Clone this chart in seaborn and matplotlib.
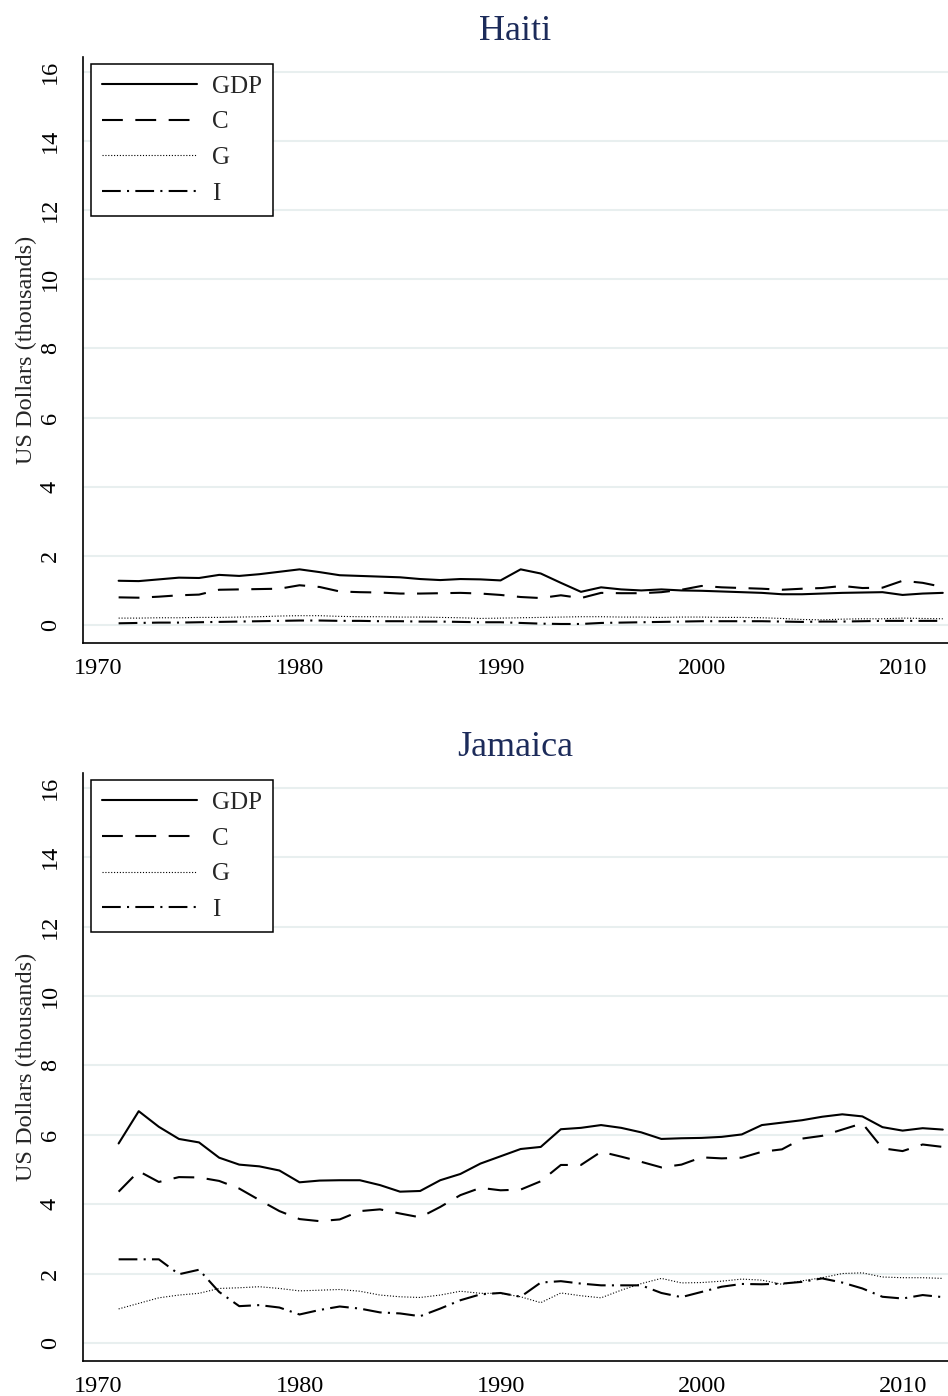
import matplotlib
matplotlib.use("Agg")

import matplotlib.pyplot as plt
import seaborn as sns
import pandas as pd

# =========================================================
# DATA (US dollars, thousands, per capita)
# =========================================================

years = list(range(1971, 2013))

haiti_gdp = [1.28, 1.27, 1.32, 1.37, 1.36, 1.45, 1.42, 1.47, 1.54, 1.61,
             1.53, 1.44, 1.42, 1.40, 1.38, 1.33, 1.30, 1.33, 1.32, 1.29,
             1.61, 1.49, 1.22, 0.96, 1.09, 1.03, 1.00, 1.03, 1.00, 0.99,
             0.97, 0.95, 0.93, 0.89, 0.89, 0.91, 0.93, 0.94, 0.95, 0.87,
             0.91, 0.93]
haiti_c = [0.80, 0.79, 0.82, 0.86, 0.88, 1.02, 1.03, 1.04, 1.05, 1.15,
           1.10, 0.97, 0.95, 0.94, 0.91, 0.91, 0.92, 0.93, 0.91, 0.87,
           0.81, 0.78, 0.86, 0.78, 0.93, 0.92, 0.92, 0.95, 1.02, 1.13,
           1.09, 1.07, 1.05, 1.02, 1.05, 1.07, 1.13, 1.07, 1.08, 1.28,
           1.22, 1.10]
haiti_g = [0.20, 0.20, 0.21, 0.21, 0.22, 0.22, 0.23, 0.24, 0.26, 0.27,
           0.27, 0.25, 0.24, 0.24, 0.23, 0.23, 0.22, 0.21, 0.19, 0.20,
           0.21, 0.22, 0.23, 0.24, 0.24, 0.23, 0.23, 0.22, 0.23, 0.23,
           0.22, 0.22, 0.21, 0.19, 0.16, 0.15, 0.17, 0.18, 0.18, 0.20,
           0.19, 0.18]
haiti_i = [0.05, 0.06, 0.07, 0.07, 0.08, 0.09, 0.10, 0.11, 0.12, 0.13,
           0.13, 0.12, 0.12, 0.11, 0.11, 0.10, 0.10, 0.09, 0.08, 0.08,
           0.06, 0.04, 0.03, 0.03, 0.06, 0.07, 0.08, 0.09, 0.10, 0.11,
           0.11, 0.11, 0.11, 0.10, 0.09, 0.10, 0.10, 0.11, 0.12, 0.12,
           0.12, 0.12]

jamaica_gdp = [5.75, 6.68, 6.23, 5.88, 5.78, 5.34, 5.14, 5.09, 4.97, 4.63,
               4.68, 4.69, 4.69, 4.55, 4.36, 4.38, 4.69, 4.87, 5.17, 5.38,
               5.59, 5.65, 6.16, 6.20, 6.28, 6.20, 6.07, 5.88, 5.90, 5.91,
               5.94, 6.01, 6.28, 6.35, 6.42, 6.52, 6.59, 6.53, 6.22, 6.12,
               6.19, 6.15]
jamaica_c = [4.36, 4.95, 4.64, 4.78, 4.77, 4.67, 4.45, 4.12, 3.80, 3.57,
             3.51, 3.56, 3.80, 3.85, 3.73, 3.62, 3.92, 4.26, 4.47, 4.40,
             4.42, 4.66, 5.13, 5.13, 5.51, 5.37, 5.22, 5.06, 5.14, 5.35,
             5.32, 5.34, 5.51, 5.58, 5.89, 5.97, 6.15, 6.33, 5.61, 5.53,
             5.72, 5.65]
jamaica_g = [0.98, 1.14, 1.30, 1.38, 1.43, 1.57, 1.59, 1.62, 1.57, 1.50,
             1.52, 1.54, 1.49, 1.38, 1.33, 1.31, 1.38, 1.49, 1.43, 1.43,
             1.33, 1.16, 1.44, 1.36, 1.30, 1.52, 1.71, 1.86, 1.73, 1.74,
             1.78, 1.84, 1.81, 1.69, 1.79, 1.88, 2.00, 2.02, 1.90, 1.88,
             1.88, 1.86]
jamaica_i = [2.41, 2.41, 2.41, 1.98, 2.11, 1.47, 1.06, 1.09, 1.02, 0.82,
             0.95, 1.05, 0.99, 0.88, 0.85, 0.77, 0.99, 1.23, 1.40, 1.44,
             1.33, 1.74, 1.78, 1.71, 1.66, 1.66, 1.66, 1.44, 1.32, 1.47,
             1.62, 1.70, 1.69, 1.71, 1.76, 1.86, 1.74, 1.57, 1.33, 1.28,
             1.38, 1.32]

series_names = ["GDP", "C", "G", "I"]
y_ticks = [0, 2, 4, 6, 8, 10, 12, 14, 16]
x_ticks = [1970, 1980, 1990, 2000, 2010]

# =========================================================
# STYLE
# =========================================================

sns.set_style("white")
plt.rcParams["font.family"] = ["Liberation Serif", "DejaVu Serif"]

title_color = "#1c2b5a"
grid_color = "#e8efef"

line_styles = {
    "GDP": dict(linestyle="-", linewidth=1.5),
    "C": dict(linestyle=(0, (10, 6)), linewidth=1.5),
    "G": dict(linestyle=(0, (1, 1.6)), linewidth=0.8),
    "I": dict(linestyle=(0, (9, 3, 1, 3)), linewidth=1.5),
}


def country_panel(ax, name, values):

    df = pd.DataFrame({"year": years})
    for s, v in zip(series_names, values):
        df[s] = v

    for s in series_names:
        sns.lineplot(
            data=df,
            x="year",
            y=s,
            ax=ax,
            color="black",
            label=s,
            **line_styles[s]
        )

    ax.set_xlim(1969.23, 2012.26)
    ax.set_ylim(-0.52, 16.43)
    ax.set_xticks(x_ticks)
    ax.set_yticks(y_ticks)
    ax.set_yticklabels([str(t) for t in y_ticks], rotation=90, va="center")

    ax.yaxis.grid(True, color=grid_color, linewidth=1.5)
    ax.xaxis.grid(False)
    ax.set_axisbelow(True)

    for side in ["top", "right"]:
        ax.spines[side].set_visible(False)
    for side in ["left", "bottom"]:
        ax.spines[side].set_color("black")
        ax.spines[side].set_linewidth(1.2)

    ax.tick_params(axis="both", direction="out", length=7, width=1.1,
                   color="black", labelsize=17.5, labelcolor="black")
    ax.tick_params(axis="y", pad=9)
    ax.tick_params(axis="x", pad=4)

    ax.set_xlabel("")
    ax.set_ylabel("US Dollars (thousands)", fontsize=17.5, labelpad=2)
    ax.set_title(name, fontsize=26, color=title_color, pad=12)

    leg = ax.legend(
        loc="upper left",
        bbox_to_anchor=(0.009, 0.988),
        borderaxespad=0,
        fontsize=18,
        handlelength=3.8,
        handletextpad=0.6,
        labelspacing=0.53,
        borderpad=0.45,
        fancybox=False,
        framealpha=1,
        edgecolor="black",
    )
    leg.get_frame().set_linewidth(1.1)


fig = plt.figure(figsize=(9.48, 13.96), dpi=100)

ax_top = fig.add_axes([0.0876, 0.5394, 0.9124, 0.4198])
ax_bot = fig.add_axes([0.0876, 0.0251, 0.9124, 0.4212])

country_panel(ax_top, "Haiti", [haiti_gdp, haiti_c, haiti_g, haiti_i])
country_panel(ax_bot, "Jamaica", [jamaica_gdp, jamaica_c, jamaica_g, jamaica_i])

fig.savefig("out.png", dpi=100)
plt.close(fig)
